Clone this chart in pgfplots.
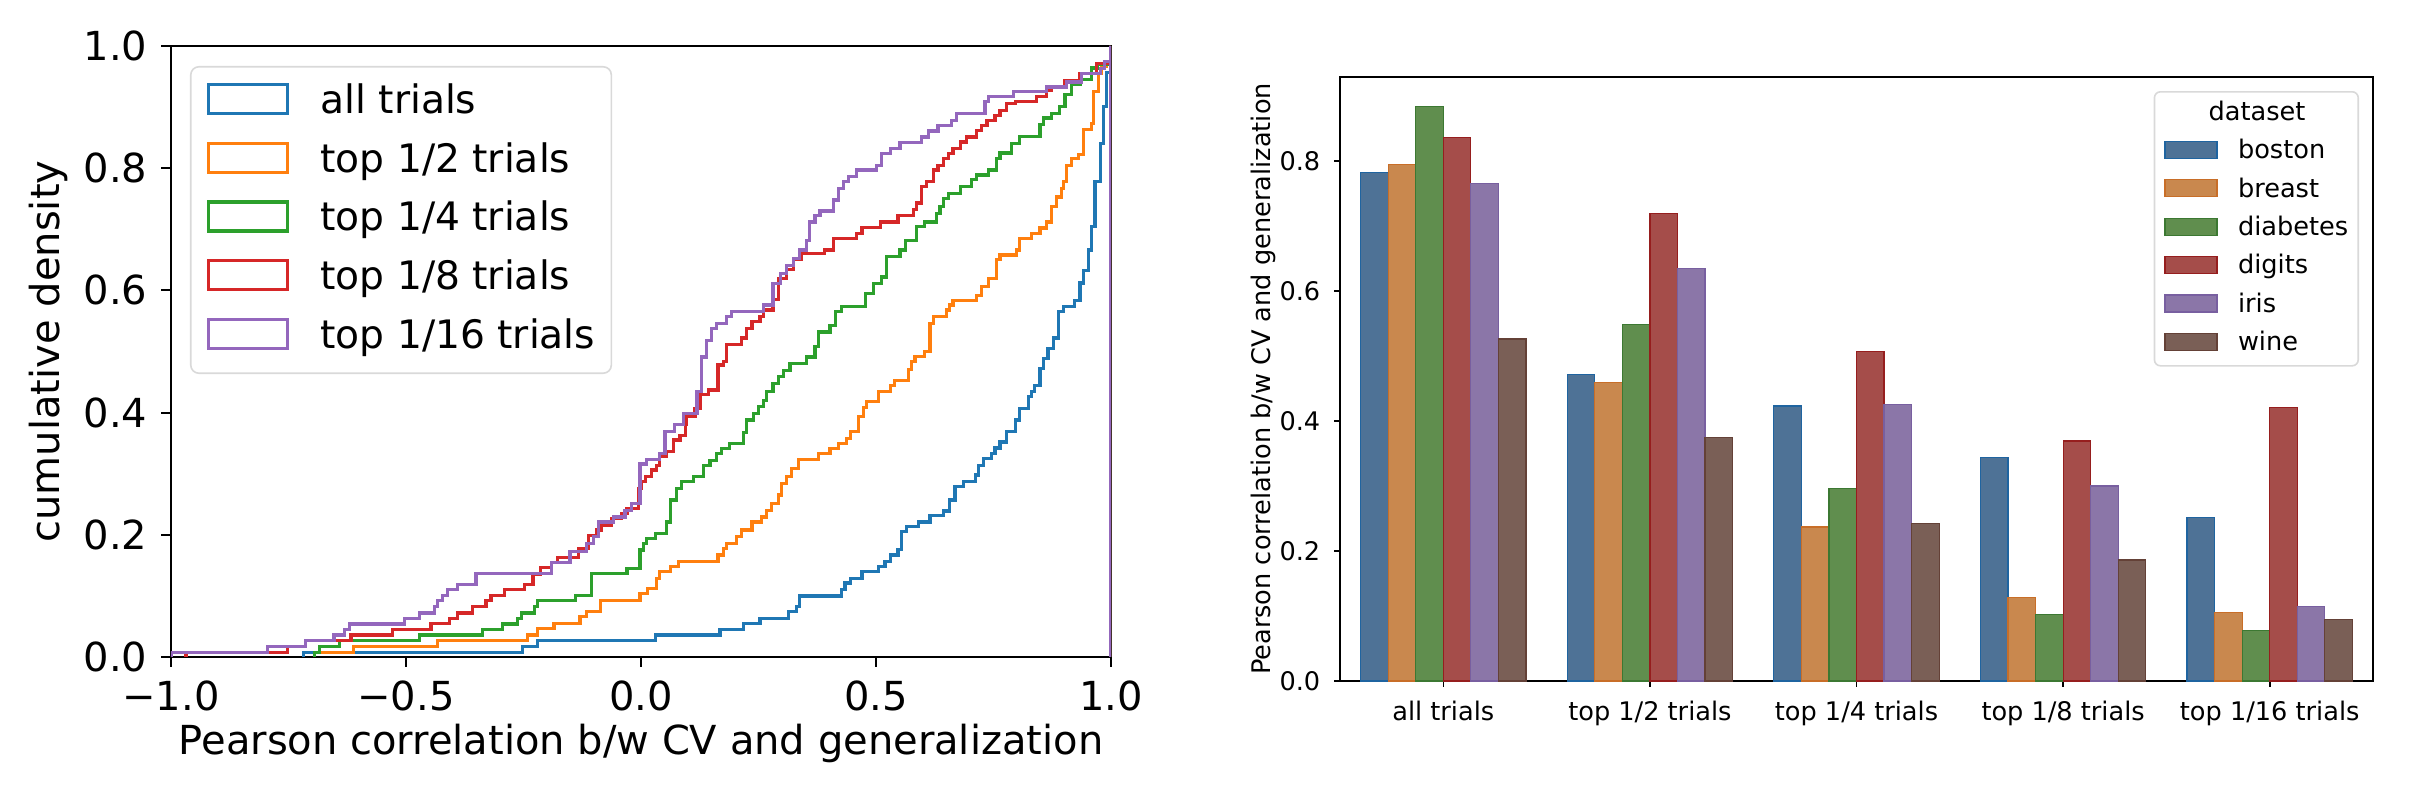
\documentclass[border=0pt]{standalone}
\usepackage{fontspec}
\setmainfont{DejaVu Sans}
\usepackage{pgfplots}
\pgfplotsset{compat=1.18}
\definecolor{cA}{HTML}{1F77B4}
\definecolor{cB}{HTML}{FF7F0E}
\definecolor{cC}{HTML}{2CA02C}
\definecolor{cD}{HTML}{D62728}
\definecolor{cE}{HTML}{9467BD}
\definecolor{bBos}{RGB}{78,114,150}
\definecolor{bBre}{RGB}{201,136,78}
\definecolor{bDia}{RGB}{96,142,78}
\definecolor{bDig}{RGB}{165,77,74}
\definecolor{bIri}{RGB}{139,118,168}
\definecolor{bWin}{RGB}{122,95,86}
\definecolor{eBos}{RGB}{31,100,160}
\definecolor{eBre}{RGB}{200,110,40}
\definecolor{eDia}{RGB}{60,120,50}
\definecolor{eDig}{RGB}{150,30,30}
\definecolor{eIri}{RGB}{120,95,160}
\definecolor{eWin}{RGB}{100,65,55}
\begin{document}
\begin{tikzpicture}
\path[use as bounding box] (0,0) rectangle (607pt,201pt);
\begin{axis}[
  at={(42.75pt,36.75pt)}, anchor=south west,
  scale only axis, width=235pt, height=152.75pt,
  xmin=-1, xmax=1, ymin=0, ymax=1,
  xtick={-1,-0.5,0,0.5,1}, xticklabels={−1.0,−0.5,0.0,0.5,1.0},
  ytick={0,0.2,0.4,0.6,0.8,1}, yticklabels={0.0,0.2,0.4,0.6,0.8,1.0},
  tick pos=left, tick align=outside, major tick length=2.4pt,
  tick style={black, line width=0.5pt},
  axis line style={line width=0.5pt},
  tick label style={font=\fontsize{10}{12}\selectfont},
  label style={font=\fontsize{10}{12}\selectfont},
  xlabel={Pearson correlation b/w CV and generalization},
  ylabel={cumulative density},
  xlabel style={at={(axis description cs:0.5,-0.1408)}, anchor=center},
  ylabel style={at={(axis description cs:-0.13,0.5)}, anchor=center},
  legend cell align=left,
  legend style={at={(0,1)}, anchor=north west, xshift=4.75pt, yshift=-5pt,
    draw=black!15, rounded corners=2pt, fill=white, fill opacity=0.8, text opacity=1,
    inner xsep=4pt, inner ysep=4pt, row sep=4.9pt,
    font=\fontsize{9.8}{12}\selectfont,
    nodes={inner sep=0pt, text height=7.3pt, text depth=2.2pt}},
  legend image code/.code={\draw[#1, sharp corners, draw opacity=1, line width=0.8pt] (0pt,-2.6pt) rectangle (19.75pt,4.65pt); \path[draw=none, fill=none] (0pt,0pt) -- (28pt,0pt);},
  const plot,
  every axis plot/.append style={line width=0.8pt},
]
\addplot[cA] coordinates {(-0.718,0) (-0.718,0.008) (-0.252,0.017) (-0.220,0.027) (0.030,0.036) (0.168,0.045) (0.218,0.055) (0.253,0.063) (0.313,0.074) (0.331,0.083) (0.338,0.100) (0.427,0.110) (0.434,0.121) (0.445,0.129) (0.470,0.140) (0.505,0.148) (0.519,0.156) (0.530,0.167) (0.547,0.176) (0.554,0.205) (0.565,0.213) (0.590,0.221) (0.615,0.231) (0.643,0.239) (0.657,0.257) (0.668,0.279) (0.686,0.287) (0.711,0.298) (0.718,0.314) (0.728,0.325) (0.746,0.333) (0.753,0.342) (0.764,0.352) (0.778,0.369) (0.796,0.388) (0.806,0.407) (0.824,0.426) (0.831,0.434) (0.838,0.445) (0.849,0.472) (0.856,0.489) (0.866,0.505) (0.877,0.522) (0.888,0.565) (0.899,0.573) (0.923,0.584) (0.934,0.612) (0.941,0.633) (0.952,0.666) (0.959,0.704) (0.966,0.778) (0.977,0.841) (0.984,0.901) (0.991,0.956) (1.0,1.0) (1.0,0)};
\addlegendentry{all trials}
\addplot[cB] coordinates {(-0.694,0) (-0.694,0.007) (-0.611,0.017) (-0.433,0.027) (-0.241,0.036) (-0.220,0.047) (-0.185,0.055) (-0.130,0.066) (-0.116,0.074) (-0.087,0.093) (-0.002,0.104) (0.013,0.112) (0.033,0.129) (0.040,0.140) (0.062,0.148) (0.079,0.156) (0.164,0.167) (0.175,0.178) (0.182,0.186) (0.204,0.197) (0.214,0.208) (0.236,0.221) (0.257,0.229) (0.267,0.240) (0.278,0.251) (0.292,0.265) (0.299,0.284) (0.310,0.295) (0.321,0.309) (0.335,0.323) (0.377,0.333) (0.402,0.341) (0.420,0.350) (0.438,0.358) (0.445,0.369) (0.462,0.393) (0.473,0.409) (0.480,0.418) (0.505,0.434) (0.530,0.445) (0.540,0.453) (0.569,0.470) (0.576,0.483) (0.583,0.492) (0.604,0.500) (0.615,0.546) (0.622,0.557) (0.650,0.568) (0.657,0.576) (0.664,0.584) (0.714,0.592) (0.725,0.606) (0.739,0.620) (0.757,0.650) (0.764,0.658) (0.799,0.666) (0.806,0.685) (0.831,0.693) (0.849,0.702) (0.863,0.712) (0.874,0.737) (0.884,0.753) (0.895,0.767) (0.899,0.778) (0.906,0.805) (0.916,0.816) (0.930,0.822) (0.941,0.863) (0.959,0.873) (0.962,0.925) (0.973,0.955) (0.980,0.966) (0.991,0.970) (1.0,1.0) (1.0,0)};
\addlegendentry{top 1/2 trials}
\addplot[cC] coordinates {(-0.694,0) (-0.694,0.007) (-0.684,0.017) (-0.642,0.027) (-0.472,0.036) (-0.337,0.045) (-0.294,0.054) (-0.262,0.063) (-0.255,0.072) (-0.227,0.083) (-0.220,0.092) (-0.140,0.101) (-0.105,0.137) (-0.030,0.145) (-0.002,0.175) (0.005,0.186) (0.012,0.194) (0.030,0.202) (0.055,0.221) (0.062,0.257) (0.076,0.276) (0.087,0.287) (0.111,0.295) (0.133,0.314) (0.147,0.322) (0.161,0.333) (0.172,0.341) (0.189,0.350) (0.218,0.368) (0.225,0.388) (0.239,0.399) (0.250,0.410) (0.260,0.420) (0.267,0.434) (0.281,0.448) (0.292,0.459) (0.303,0.469) (0.317,0.480) (0.352,0.491) (0.370,0.508) (0.377,0.532) (0.402,0.543) (0.413,0.565) (0.427,0.573) (0.477,0.595) (0.494,0.611) (0.512,0.622) (0.523,0.655) (0.551,0.666) (0.562,0.682) (0.587,0.704) (0.604,0.712) (0.629,0.726) (0.636,0.737) (0.644,0.751) (0.654,0.759) (0.679,0.770) (0.704,0.781) (0.714,0.789) (0.739,0.797) (0.757,0.816) (0.764,0.825) (0.789,0.841) (0.806,0.852) (0.849,0.871) (0.856,0.882) (0.874,0.890) (0.891,0.901) (0.902,0.920) (0.916,0.937) (0.934,0.945) (0.959,0.964) (0.970,0.970) (1.0,1.0) (1.0,0)};
\addlegendentry{top 1/4 trials}
\addplot[cD] coordinates {(-0.968,0) (-0.968,0.007) (-0.752,0.017) (-0.713,0.027) (-0.617,0.036) (-0.528,0.045) (-0.447,0.055) (-0.408,0.063) (-0.390,0.072) (-0.358,0.083) (-0.330,0.092) (-0.319,0.101) (-0.291,0.110) (-0.248,0.119) (-0.230,0.136) (-0.213,0.146) (-0.191,0.155) (-0.177,0.163) (-0.133,0.178) (-0.112,0.199) (-0.094,0.208) (-0.084,0.216) (-0.062,0.227) (-0.041,0.235) (-0.030,0.243) (-0.006,0.276) (0.001,0.287) (0.009,0.295) (0.023,0.306) (0.033,0.314) (0.040,0.328) (0.055,0.336) (0.069,0.355) (0.083,0.363) (0.094,0.380) (0.097,0.393) (0.115,0.407) (0.126,0.429) (0.143,0.437) (0.164,0.478) (0.175,0.484) (0.182,0.511) (0.214,0.522) (0.225,0.538) (0.236,0.549) (0.253,0.557) (0.260,0.568) (0.281,0.585) (0.292,0.620) (0.310,0.634) (0.324,0.650) (0.341,0.661) (0.391,0.666) (0.409,0.685) (0.459,0.693) (0.470,0.703) (0.509,0.712) (0.547,0.722) (0.579,0.732) (0.586,0.743) (0.597,0.770) (0.608,0.778) (0.622,0.797) (0.632,0.805) (0.643,0.816) (0.654,0.824) (0.664,0.832) (0.679,0.843) (0.693,0.851) (0.714,0.862) (0.725,0.870) (0.736,0.878) (0.753,0.886) (0.764,0.895) (0.778,0.906) (0.796,0.909) (0.842,0.917) (0.863,0.928) (0.874,0.933) (0.902,0.944) (0.934,0.955) (0.969,0.971) (1.0,1.0) (1.0,0)};
\addlegendentry{top 1/8 trials}
\addplot[cE] coordinates {(-1.0,0) (-1.0,0.007) (-0.794,0.017) (-0.713,0.027) (-0.653,0.036) (-0.631,0.045) (-0.621,0.054) (-0.504,0.063) (-0.472,0.072) (-0.440,0.083) (-0.433,0.092) (-0.422,0.101) (-0.411,0.110) (-0.390,0.119) (-0.351,0.137) (-0.191,0.155) (-0.151,0.173) (-0.116,0.186) (-0.101,0.197) (-0.091,0.221) (-0.059,0.229) (-0.034,0.240) (-0.020,0.251) (-0.002,0.316) (0.012,0.323) (0.040,0.333) (0.051,0.369) (0.072,0.380) (0.090,0.399) (0.119,0.434) (0.129,0.491) (0.140,0.518) (0.150,0.538) (0.161,0.546) (0.182,0.557) (0.193,0.565) (0.260,0.576) (0.281,0.611) (0.296,0.628) (0.310,0.641) (0.324,0.652) (0.338,0.666) (0.352,0.682) (0.359,0.712) (0.370,0.723) (0.381,0.730) (0.409,0.748) (0.420,0.767) (0.430,0.778) (0.441,0.786) (0.459,0.797) (0.501,0.805) (0.512,0.824) (0.530,0.832) (0.551,0.842) (0.597,0.851) (0.611,0.861) (0.632,0.870) (0.661,0.878) (0.671,0.890) (0.732,0.909) (0.739,0.917) (0.792,0.925) (0.863,0.933) (0.906,0.941) (0.937,0.955) (0.977,0.963) (0.987,0.974) (1.0,1.0) (1.0,0)};
\addlegendentry{top 1/16 trials}
\end{axis}

\begin{axis}[
  at={(335pt,30.75pt)}, anchor=south west,
  scale only axis, width=258.25pt, height=151pt,
  xmin=-0.5, xmax=4.5, ymin=0, ymax=0.929,
  xtick={0,1,2,3,4},
  xticklabels={all trials, top 1/2 trials, top 1/4 trials, top 1/8 trials, top 1/16 trials},
  ytick={0,0.2,0.4,0.6,0.8}, yticklabels={0.0,0.2,0.4,0.6,0.8},
  tick pos=left, tick align=outside, major tick length=1.4pt,
  tick style={black, line width=0.4pt},
  axis line style={line width=0.45pt},
  tick label style={font=\fontsize{6.4}{7.5}\selectfont},
  label style={font=\fontsize{6.4}{7.5}\selectfont},
  ylabel={Pearson correlation b/w CV and generalization},
  ylabel style={at={(axis description cs:-0.0745,0.5)}, anchor=center},
  ybar, bar width=0.13333,
  legend cell align=left,
  legend style={at={(1,1)}, anchor=north east, xshift=-3.5pt, yshift=-3.5pt,
    draw=black!15, rounded corners=1.5pt, fill=white, fill opacity=0.8, text opacity=1,
    inner xsep=2.5pt, inner ysep=2.4pt, row sep=3.5pt,
    font=\fontsize{6.4}{7.5}\selectfont,
    nodes={inner sep=0pt, text height=4.7pt, text depth=1.4pt}},
  legend image code/.code={\draw[#1, sharp corners, fill opacity=1, draw opacity=1, line width=0.3pt] (0pt,-1.6pt) rectangle (13pt,2.65pt); \path[draw=none, fill=none] (0pt,0pt) -- (18.25pt,0pt);},
]
\addlegendimage{empty legend}
\addlegendentry{\hspace*{-7.35pt}dataset}
\addplot[fill=bBos, draw=eBos, line width=0.3pt, bar shift=-0.33333] coordinates {(0,0.782) (1,0.471) (2,0.423) (3,0.344) (4,0.252)};
\addlegendentry{boston}
\addplot[fill=bBre, draw=eBre, line width=0.3pt, bar shift=-0.2] coordinates {(0,0.794) (1,0.459) (2,0.237) (3,0.128) (4,0.105)};
\addlegendentry{breast}
\addplot[fill=bDia, draw=eDia, line width=0.3pt, bar shift=-0.066667] coordinates {(0,0.884) (1,0.548) (2,0.296) (3,0.102) (4,0.078)};
\addlegendentry{diabetes}
\addplot[fill=bDig, draw=eDig, line width=0.3pt, bar shift=0.066667] coordinates {(0,0.836) (1,0.719) (2,0.507) (3,0.369) (4,0.421)};
\addlegendentry{digits}
\addplot[fill=bIri, draw=eIri, line width=0.3pt, bar shift=0.2] coordinates {(0,0.765) (1,0.635) (2,0.425) (3,0.300) (4,0.115)};
\addlegendentry{iris}
\addplot[fill=bWin, draw=eWin, line width=0.3pt, bar shift=0.33333] coordinates {(0,0.526) (1,0.375) (2,0.242) (3,0.186) (4,0.095)};
\addlegendentry{wine}
\end{axis}
\end{tikzpicture}
\end{document}
